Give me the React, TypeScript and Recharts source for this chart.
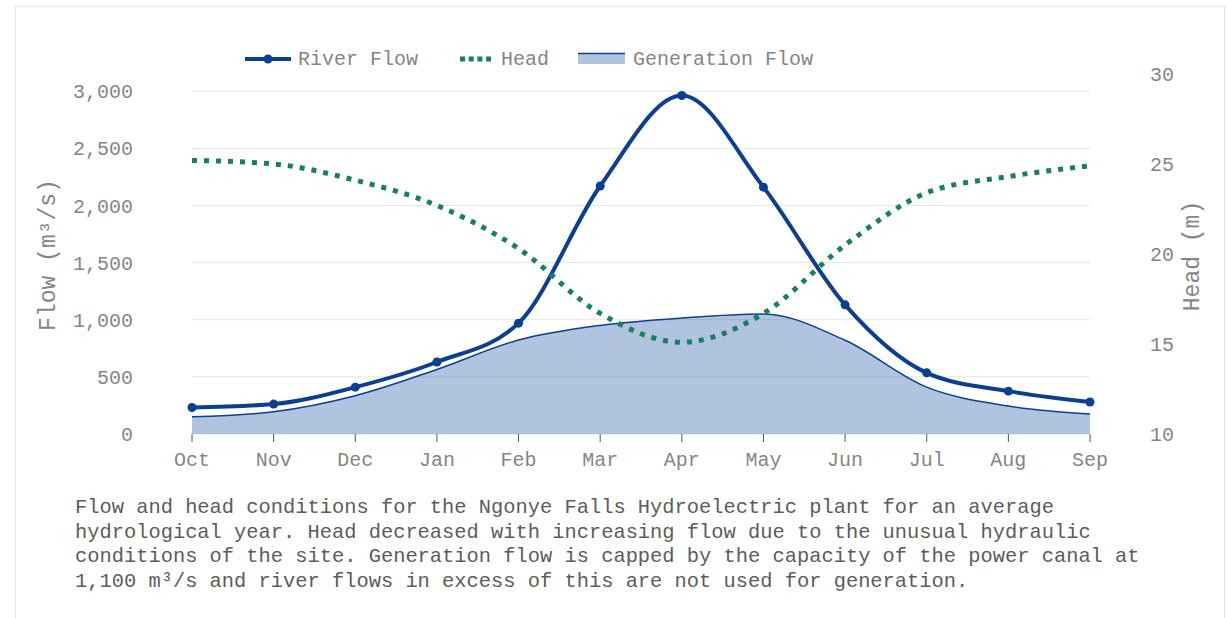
import React from 'react';
import { ComposedChart, Line, Area, XAxis, YAxis, CartesianGrid } from 'recharts';

const months = ['Oct', 'Nov', 'Dec', 'Jan', 'Feb', 'Mar', 'Apr', 'May', 'Jun', 'Jul', 'Aug', 'Sep'];
const riverFlow = [232, 262, 410, 630, 970, 2170, 2962, 2160, 1130, 535, 375, 280];
const generationFlow = [150, 195, 335, 565, 822, 950, 1015, 1050, 820, 410, 245, 175];
const head = [25.2, 25.0, 24.1, 22.7, 20.3, 16.7, 15.1, 16.7, 20.5, 23.4, 24.3, 24.9];
const flowTicks = [0, 500, 1000, 1500, 2000, 2500, 3000];
const headTicks = [10, 15, 20, 25, 30];
const captionLines = [
  'Flow and head conditions for the Ngonye Falls Hydroelectric plant for an average',
  'hydrological year. Head decreased with increasing flow due to the unusual hydraulic',
  'conditions of the site. Generation flow is capped by the capacity of the power canal at',
  '1,100 m\u00b3/s and river flows in excess of this are not used for generation.',
];

const data = months.map((m, i) => ({
  month: m,
  river: riverFlow[i],
  gen: generationFlow[i],
  head: head[i],
}));

const FONT = '"Liberation Mono", "Courier New", monospace';
const BLUE = '#0b3f94';
const GREEN = '#178060';
const TICK = { fill: '#858585', fontSize: 20, fontFamily: FONT };

export default function App() {
  return (
    <div style={{ position: 'absolute', left: 0, top: 0, width: 1227, height: 618, background: '#fff', overflow: 'hidden' }}>
      <div style={{ position: 'absolute', left: 15, top: 6, width: 1210, height: 640, border: '1px solid #dfe4ea', boxSizing: 'border-box' }} />
      <div style={{ position: 'absolute', left: 16, top: 7 }}>
        <ComposedChart width={1207} height={480} data={data} margin={{ top: 67, right: 0, left: 0, bottom: 0 }}>
          <CartesianGrid yAxisId="left" vertical={false} stroke="#e6e6e6" horizontalValues={flowTicks} />
          <XAxis
            dataKey="month"
            scale="point"
            padding={{ left: 0, right: 0 }}
            axisLine={false}
            tickSize={8}
            tickMargin={10}
            tickLine={{ stroke: '#555' }}
            tick={TICK}
            height={53}
            interval={0}
          />
          <YAxis
            yAxisId="left"
            domain={[0, 3150]}
            ticks={flowTicks}
            width={176}
            axisLine={false}
            tickLine={false}
            tickSize={0}
            tickMargin={59}
            tick={TICK}
            tickFormatter={(v: number) => v.toLocaleString('en-US')}
          />
          <YAxis
            yAxisId="right"
            orientation="right"
            domain={[10, 30]}
            ticks={headTicks}
            width={133}
            axisLine={false}
            tickLine={false}
            tickSize={0}
            tickMargin={60}
            tick={TICK}
          />
          <Area
            yAxisId="left"
            type="monotone"
            dataKey="gen"
            stroke={BLUE}
            strokeWidth={1.5}
            fill="#003f9a"
            fillOpacity={0.31}
            isAnimationActive={false}
          />
          <Line
            yAxisId="left"
            type="monotone"
            dataKey="river"
            stroke={BLUE}
            strokeWidth={4}
            dot={{ r: 4.5, fill: BLUE, stroke: BLUE, strokeWidth: 0 }}
            isAnimationActive={false}
          />
          <Line
            yAxisId="right"
            type="monotone"
            dataKey="head"
            stroke={GREEN}
            strokeWidth={5}
            strokeDasharray="5 7"
            dot={false}
            isAnimationActive={false}
          />
        </ComposedChart>
      </div>
      {/* Legend */}
      <div style={{ position: 'absolute', left: 244, top: 47, height: 24, display: 'flex', alignItems: 'center', fontFamily: FONT, fontSize: 20, color: '#858585', whiteSpace: 'nowrap' }}>
        <svg width={48} height={24} style={{ marginRight: 6 }}>
          <line x1={1} y1={12} x2={47} y2={12} stroke={BLUE} strokeWidth={4} />
          <circle cx={24} cy={12} r={4.5} fill={BLUE} />
        </svg>
        <span>River Flow</span>
        <svg width={31} height={24} style={{ marginLeft: 42, marginRight: 10 }}>
          <line x1={0} y1={12} x2={31} y2={12} stroke={GREEN} strokeWidth={5} strokeDasharray="5 3.7" />
        </svg>
        <span>Head</span>
        <svg width={47} height={24} style={{ marginLeft: 29, marginRight: 8 }}>
          <rect x={0} y={6} width={47} height={11} fill="#003f9a" fillOpacity={0.31} />
          <line x1={0} y1={6.5} x2={47} y2={6.5} stroke={BLUE} strokeWidth={1.5} />
        </svg>
        <span>Generation Flow</span>
      </div>
      {/* Axis titles */}
      <div style={{ position: 'absolute', left: 49, top: 255, transform: 'translate(-50%, -50%) rotate(-90deg)', fontFamily: FONT, fontSize: 23, color: '#858585', whiteSpace: 'nowrap' }}>
        Flow (m&sup3;/s)
      </div>
      <div style={{ position: 'absolute', left: 1193, top: 256, transform: 'translate(-50%, -50%) rotate(-90deg)', fontFamily: FONT, fontSize: 23, color: '#858585', whiteSpace: 'nowrap' }}>
        Head (m)
      </div>
      {/* Caption */}
      <div style={{ position: 'absolute', left: 75, top: 496, fontFamily: FONT, fontSize: 20.4, lineHeight: '24.5px', color: '#5c5c5c', whiteSpace: 'nowrap' }}>
        {captionLines.map((l, i) => (
          <div key={i}>{l}</div>
        ))}
      </div>
    </div>
  );
}
